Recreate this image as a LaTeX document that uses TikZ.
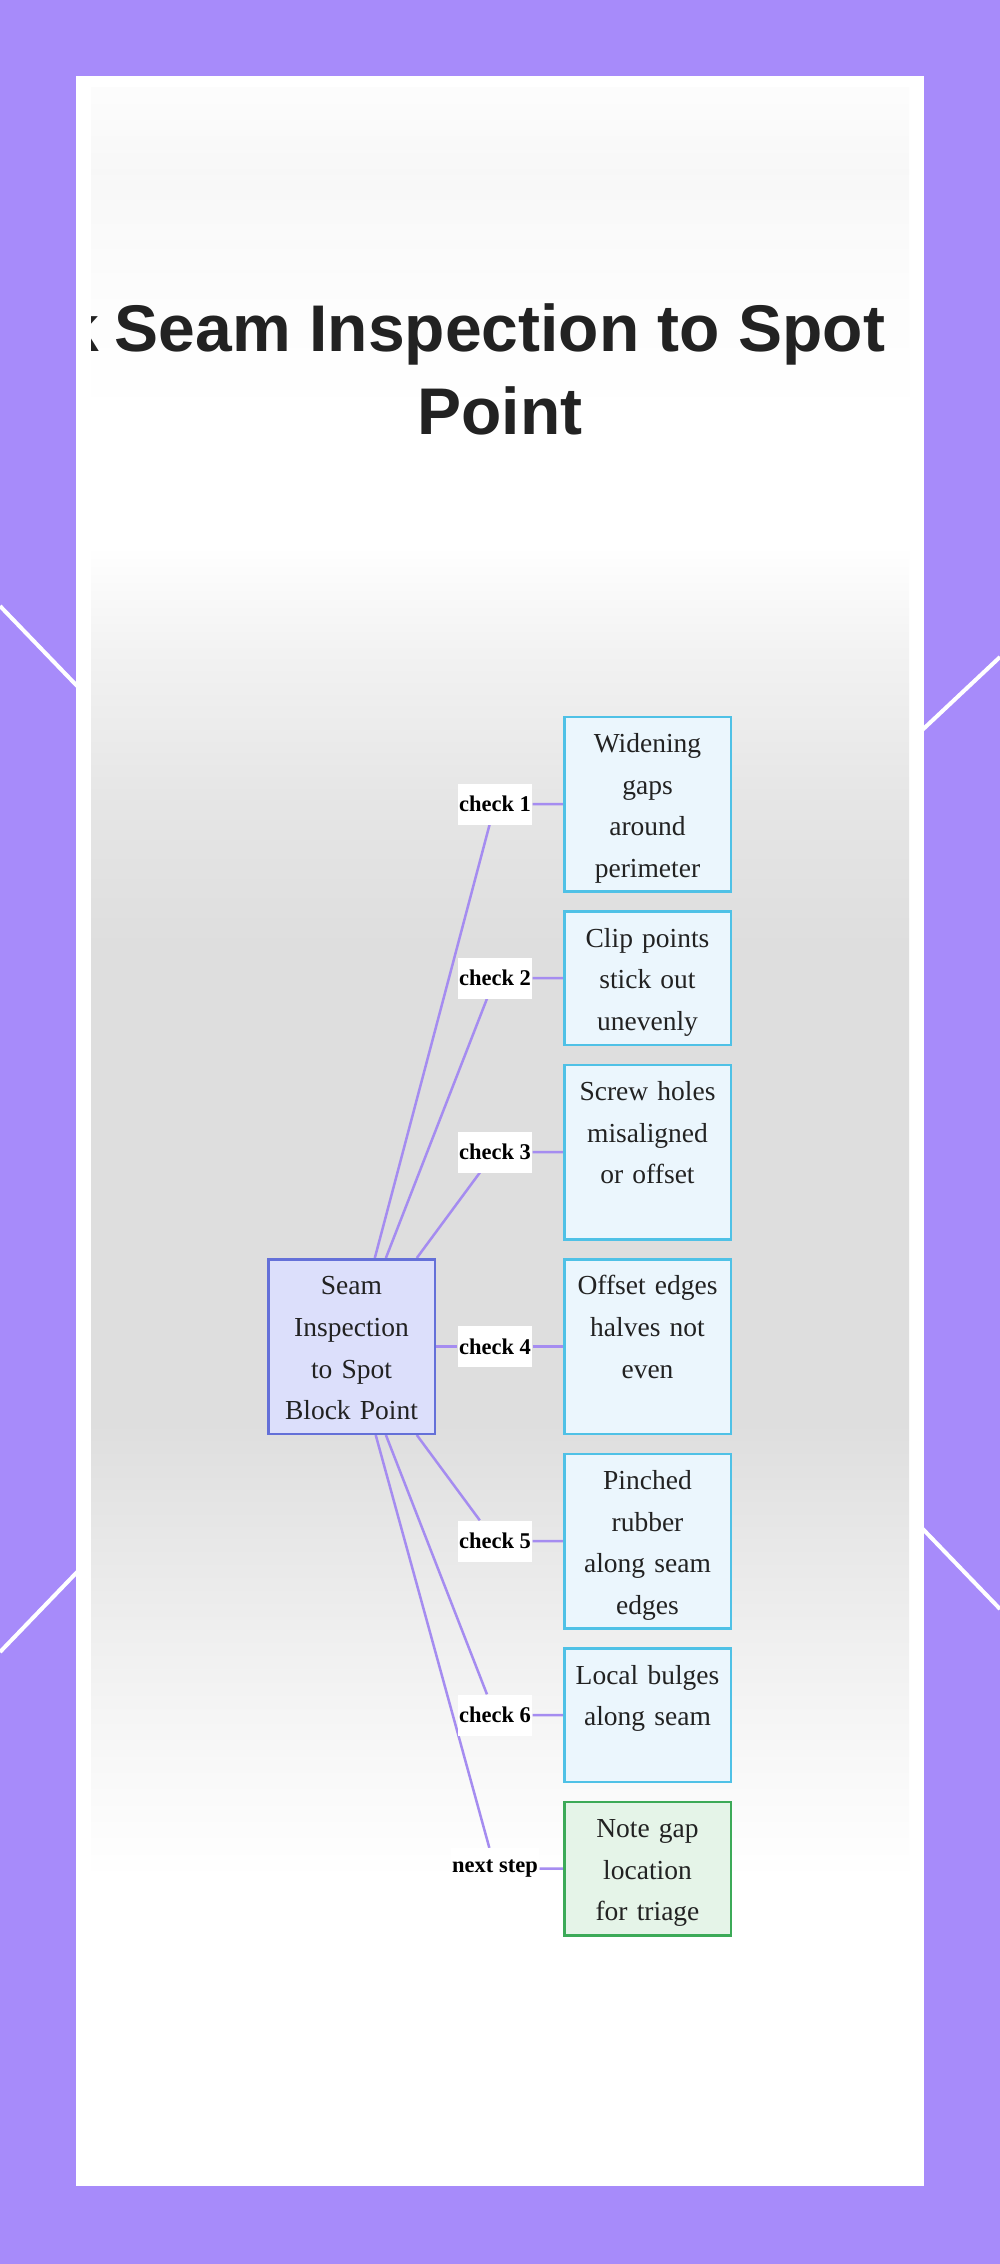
\documentclass[tikz,border=0pt]{standalone}
\usepackage{fontspec}
\setmainfont{Liberation Serif}
\newfontfamily\headfont{Liberation Sans}
\usetikzlibrary{positioning}
\definecolor{framepurple}{HTML}{A78BFA}
\definecolor{linkpurple}{HTML}{A58CF0}
\definecolor{hubfill}{HTML}{DCDFFB}
\definecolor{hubdraw}{HTML}{6470D8}
\definecolor{findfill}{HTML}{EBF6FD}
\definecolor{finddraw}{HTML}{4FC1E6}
\definecolor{notefill}{HTML}{E5F4E8}
\definecolor{notedraw}{HTML}{3CAA58}
\definecolor{inktext}{HTML}{222222}
\pgfdeclarelayer{fog}
\pgfdeclarelayer{links}
\pgfsetlayers{fog,links,main}
\pgfdeclareverticalshading{panelfog}{100bp}{color(0bp)=(white); color(25bp)=(white);
  color(32bp)=(white); color(36bp)=(black!4); color(40bp)=(black!9);
  color(43bp)=(black!13); color(54.3bp)=(black!13); color(57.9bp)=(black!10);
  color(61.5bp)=(black!5); color(64bp)=(white); color(67bp)=(white);
  color(70bp)=(black!1); color(73bp)=(black!3); color(75bp)=(black!1);
  color(100bp)=(white)}
\tikzset{
  finding box/.style={draw=finddraw,fill=findfill,line width=2.5pt,text=inktext,
    minimum width=166.5pt,text width=158pt,align=center,inner sep=4pt,
    font=\fontsize{27.5}{41.6}\selectfont,
    execute at begin node=\rule{0pt}{31.6pt},
    execute at end node=\rule[-10pt]{0pt}{10pt}},
  tall box/.style={finding box,minimum height=174.5pt},
  short box/.style={finding box,minimum height=133.5pt},
  hub box/.style={tall box,draw=hubdraw,fill=hubfill},
  note box/.style={short box,draw=notedraw,fill=notefill},
  check tag/.style={fill=white,inner xsep=1.5pt,inner ysep=0pt,minimum height=41pt,
    font=\fontsize{22.5}{27}\selectfont\bfseries,text=black},
  link/.style={linkpurple,line width=2.5pt},
  title text/.style={font=\headfont\bfseries\fontsize{66}{83}\selectfont,
    text=inktext,inner sep=0pt},
}

\begin{document}
\begin{tikzpicture}[x=1pt,y=-1pt,node distance=17.5pt and 127pt]
  \useasboundingbox (0,0) rectangle (1000,2264);

  % Frame, panel and the soft grey band behind the tree.
  \begin{pgfonlayer}{fog}
    \fill[framepurple] (0,0) rectangle (1000,2264);
    \draw[white,line width=4pt] (0,606) -- (80,689);
    \draw[white,line width=4pt] (0,1652) -- (80,1569);
    \draw[white,line width=4pt] (1000,657) -- (918,734);
    \draw[white,line width=4pt] (1000,1609) -- (918,1524);
    \fill[white] (76,76) rectangle (924,2186);
    \shade[shading=panelfog] (91,88) rectangle (909,2170);
  \end{pgfonlayer}

  \node[title text,anchor=base] (title) at (500,351) {Seam Inspection to Spot};
  \node[title text,anchor=base] (titletail) at (500,434) {Point};
  \begin{scope}
    \clip (91,280) rectangle (200,450);
    \node[title text,anchor=base east] (titlecut) at (99,351) {k};
  \end{scope}

  % Hub on the left, the findings stacked to its right.
  \node[hub box] (hub) at (351.5,1346.5) {Seam\\Inspection\\to Spot\\Block Point};
  \node[tall box,right=of hub] (box4) {Offset edges\\halves not\\even\\};
  \node[tall box,above=of box4] (box3) {Screw holes\\misaligned\\or offset\\};
  \node[short box,above=of box3] (box2) {Clip points\\stick out\\unevenly};
  \node[tall box,above=of box2] (box1) {Widening\\gaps\\around\\perimeter};
  \node[tall box,below=of box4] (box5) {Pinched\\rubber\\along seam\\edges};
  \node[short box,below=of box5] (box6) {Local bulges\\along seam\\};
  \node[note box,below=of box6] (box7) {Note gap\\location\\for triage};

  % Edge labels sit in one column between hub and findings.
  \coordinate (tagcol) at (495,0);
  \node[check tag] (tag1) at (tagcol |- box1) {check 1};
  \node[check tag] (tag2) at (tagcol |- box2) {check 2};
  \node[check tag] (tag3) at (tagcol |- box3) {check 3};
  \node[check tag] (tag4) at (tagcol |- box4) {check 4};
  \node[check tag] (tag5) at (tagcol |- box5) {check 5};
  \node[check tag] (tag6) at (tagcol |- box6) {check 6};
  \node[check tag] (tag7) at (tagcol |- box7) {next step};

  \begin{pgfonlayer}{links}
    \draw[link] (hub) -- (tag1) -- (box1);
    \draw[link] (hub) -- (tag2) -- (box2);
    \draw[link] (hub) -- (tag3) -- (box3);
    \draw[link] (hub) -- (tag4) -- (box4);
    \draw[link] (hub) -- (tag5) -- (box5);
    \draw[link] (hub) -- (tag6) -- (box6);
    \draw[link] (hub) -- (tag7) -- (box7);
  \end{pgfonlayer}
\end{tikzpicture}
\end{document}
